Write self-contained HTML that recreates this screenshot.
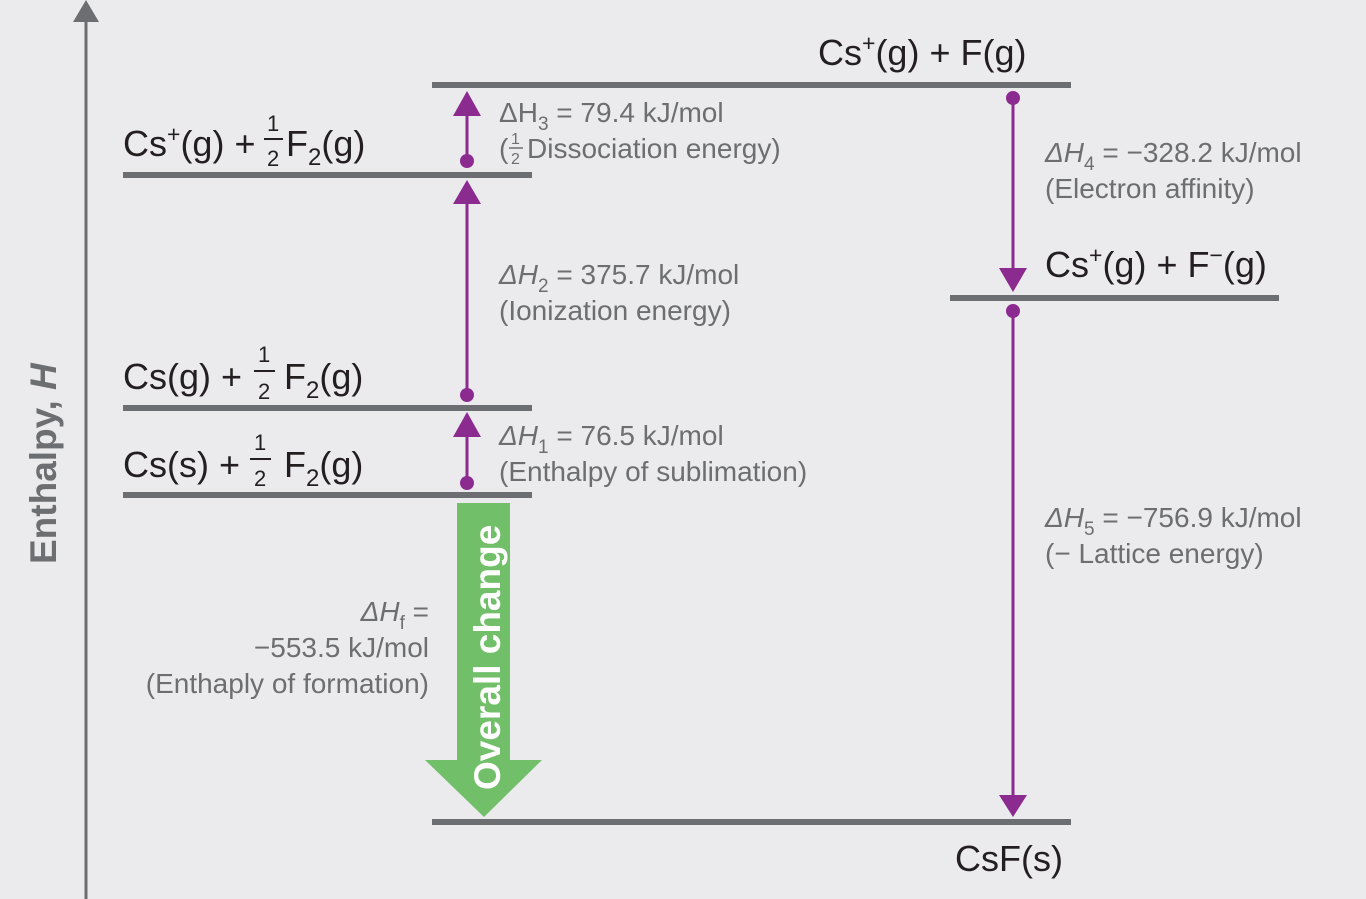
<!DOCTYPE html>
<html><head><meta charset="utf-8"><style>
html,body{margin:0;padding:0;background:#ebebed;}
svg{display:block;}
text{font-family:"Liberation Sans",sans-serif;}
.big{font-size:36px;fill:#231f20;}
.ann{font-size:28px;fill:#6d6e71;}
.fr{font-size:22px;}
</style></head><body>
<svg width="1366" height="899" viewBox="0 0 1366 899" xmlns="http://www.w3.org/2000/svg">
<rect width="1366" height="899" fill="#ebebed"/>
<line x1="86" y1="899" x2="86" y2="18" stroke="#6d6e71" stroke-width="3"/>
<polygon points="86,0 73,22 99,22" fill="#6d6e71"/>
<text transform="translate(56,564) rotate(-90)" style="font-size:37px;font-weight:bold;fill:#6d6e71">Enthalpy, <tspan font-style="italic">H</tspan></text>
<g stroke="#6d6e71" stroke-width="6">
<line x1="432" y1="85" x2="1071" y2="85"/>
<line x1="123" y1="175" x2="532" y2="175"/>
<line x1="123" y1="408" x2="532" y2="408"/>
<line x1="123" y1="495" x2="532" y2="495"/>
<line x1="950" y1="298" x2="1279" y2="298"/>
<line x1="432" y1="822" x2="1071" y2="822"/>
</g>
<g stroke="#8b2a8f" stroke-width="3" fill="#8b2a8f">
<line x1="467" y1="483" x2="467" y2="430"/>
<polygon points="467,412 453,437 481,437" stroke="none"/>
<circle cx="467" cy="483" r="7" stroke="none"/>
<line x1="467" y1="395" x2="467" y2="198"/>
<polygon points="467,180 453,204 481,204" stroke="none"/>
<circle cx="467" cy="395" r="7" stroke="none"/>
<line x1="467" y1="161" x2="467" y2="110"/>
<polygon points="467,91 453,116 481,116" stroke="none"/>
<circle cx="467" cy="161" r="7" stroke="none"/>
<line x1="1013" y1="98" x2="1013" y2="272"/>
<polygon points="1013,292 999,268 1027,268" stroke="none"/>
<circle cx="1013" cy="98" r="7" stroke="none"/>
<line x1="1013" y1="311" x2="1013" y2="800"/>
<polygon points="1013,817 999,795 1027,795" stroke="none"/>
<circle cx="1013" cy="311" r="7" stroke="none"/>
</g>
<polygon points="457,503 510,503 510,760 542,760 484,817 425,760 457,760" fill="#72bf6a"/>
<text transform="translate(500,790) rotate(-90)" style="font-size:37px;font-weight:bold;fill:#fff">Overall change</text>

<text class="big" x="818" y="65">Cs<tspan dy="-14" font-size="23">+</tspan><tspan dy="14">(g) + F(g)</tspan></text>
<text class="big" x="123" y="156">Cs<tspan dy="-14" font-size="23">+</tspan><tspan dy="14">(g) +</tspan></text>
<text x="267" y="131" class="fr" fill="#231f20">1</text><text x="267" y="166" class="fr" fill="#231f20">2</text>
<line x1="264" y1="139" x2="283" y2="139" stroke="#231f20" stroke-width="2"/>
<text class="big" x="286" y="156">F<tspan dy="9" font-size="24">2</tspan><tspan dy="-9">(g)</tspan></text>

<text class="big" x="123" y="389">Cs(g) +</text>
<text x="258" y="362" class="fr" fill="#231f20">1</text><text x="258" y="399" class="fr" fill="#231f20">2</text>
<line x1="254" y1="371" x2="275" y2="371" stroke="#231f20" stroke-width="2"/>
<text class="big" x="284" y="389">F<tspan dy="9" font-size="24">2</tspan><tspan dy="-9">(g)</tspan></text>

<text class="big" x="123" y="477">Cs(s) +</text>
<text x="254" y="450" class="fr" fill="#231f20">1</text><text x="254" y="486" class="fr" fill="#231f20">2</text>
<line x1="250" y1="459" x2="271" y2="459" stroke="#231f20" stroke-width="2"/>
<text class="big" x="284" y="477">F<tspan dy="9" font-size="24">2</tspan><tspan dy="-9">(g)</tspan></text>

<text class="big" x="1045" y="277">Cs<tspan dy="-14" font-size="23">+</tspan><tspan dy="14">(g) + F</tspan><tspan dy="-14" font-size="23">−</tspan><tspan dy="14">(g)</tspan></text>
<text class="big" x="955" y="871">CsF(s)</text>

<text class="ann" x="499" y="122">ΔH<tspan dy="8" font-size="19">3</tspan><tspan dy="-8"> = 79.4 kJ/mol</tspan></text>
<text class="ann" x="499" y="158">(</text>
<text x="511" y="144" font-size="16" fill="#6d6e71">1</text><text x="511" y="164" font-size="16" fill="#6d6e71">2</text>
<line x1="509" y1="148" x2="523" y2="148" stroke="#6d6e71" stroke-width="1.5"/>
<text class="ann" x="527" y="158">Dissociation energy)</text>

<text class="ann" x="499" y="284"><tspan font-style="italic">ΔH</tspan><tspan dy="8" font-size="19">2</tspan><tspan dy="-8"> = 375.7 kJ/mol</tspan></text>
<text class="ann" x="499" y="320">(Ionization energy)</text>
<text class="ann" x="499" y="445"><tspan font-style="italic">ΔH</tspan><tspan dy="8" font-size="19">1</tspan><tspan dy="-8"> = 76.5 kJ/mol</tspan></text>
<text class="ann" x="499" y="481">(Enthalpy of sublimation)</text>

<text class="ann" x="1045" y="162"><tspan font-style="italic">ΔH</tspan><tspan dy="8" font-size="19">4</tspan><tspan dy="-8"> = −328.2 kJ/mol</tspan></text>
<text class="ann" x="1045" y="198">(Electron affinity)</text>
<text class="ann" x="1045" y="527"><tspan font-style="italic">ΔH</tspan><tspan dy="8" font-size="19">5</tspan><tspan dy="-8"> = −756.9 kJ/mol</tspan></text>
<text class="ann" x="1045" y="563">(− Lattice energy)</text>

<text class="ann" x="429" y="621" text-anchor="end"><tspan font-style="italic">ΔH</tspan><tspan dy="8" font-size="19">f</tspan><tspan dy="-8"> =</tspan></text>
<text class="ann" x="429" y="657" text-anchor="end">−553.5 kJ/mol</text>
<text class="ann" x="429" y="693" text-anchor="end">(Enthaply of formation)</text>
</svg>
</body></html>
